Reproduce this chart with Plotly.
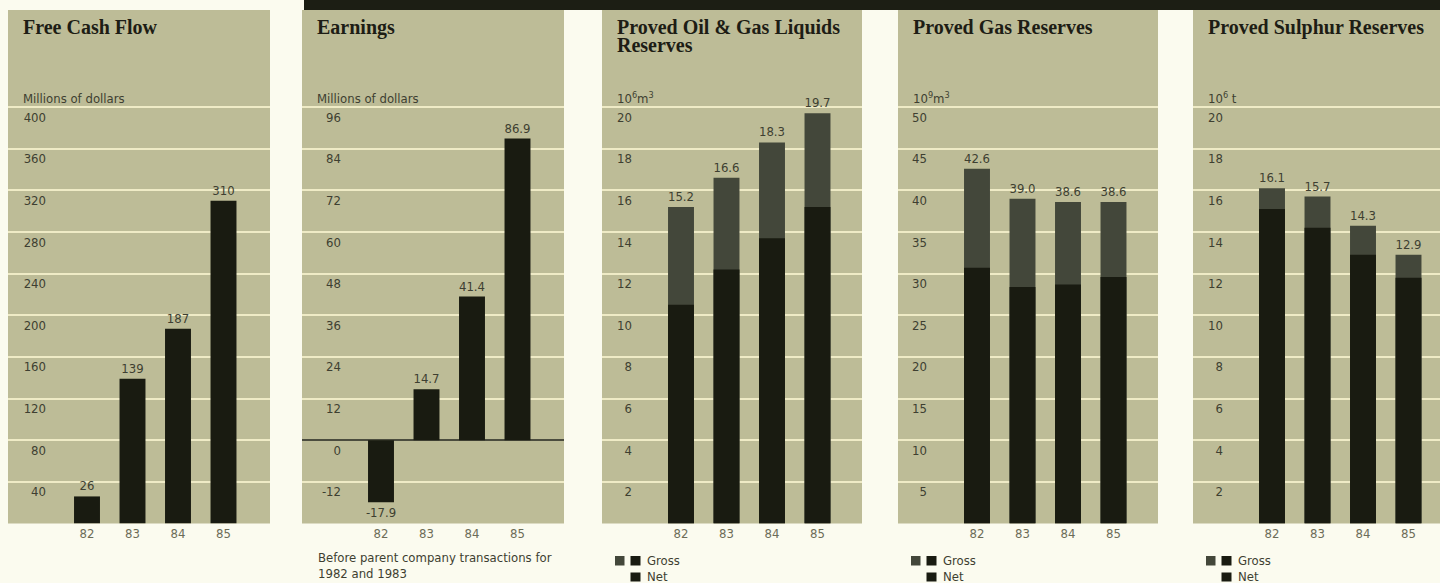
import plotly.graph_objects as go

# ---------------- data ----------------
years = ["82", "83", "84", "85"]
free_cash_flow = [26, 139, 187, 310]
earnings = [-17.9, 14.7, 41.4, 86.9]
oil_gross = [15.2, 16.6, 18.3, 19.7]
oil_net = [10.5, 12.2, 13.7, 15.2]
gas_gross = [42.6, 39.0, 38.6, 38.6]
gas_net = [30.7, 28.4, 28.7, 29.6]
sulphur_gross = [16.1, 15.7, 14.3, 12.9]
sulphur_net = [15.1, 14.2, 12.9, 11.8]

fcf_ticks = [40, 80, 120, 160, 200, 240, 280, 320, 360, 400]
earn_ticks = [-12, 0, 12, 24, 36, 48, 60, 72, 84, 96]
oil_ticks = [2, 4, 6, 8, 10, 12, 14, 16, 18, 20]
gas_ticks = [5, 10, 15, 20, 25, 30, 35, 40, 45, 50]
sul_ticks = [2, 4, 6, 8, 10, 12, 14, 16, 18, 20]

titles = ["Free Cash Flow", "Earnings", "Proved Oil & Gas Liquids", "Proved Gas Reserves",
          "Proved Sulphur Reserves"]
units = ["Millions of dollars", "Millions of dollars", "10<sup>6</sup>m<sup>3</sup>",
         "10<sup>9</sup>m<sup>3</sup>", "10<sup>6</sup> t"]

# ---------------- style ----------------
W, H = 1440, 583
PAGE = "#fbfbef"
PANEL = "#bdbc97"
GRID = "#efebc6"
BLACK = "#191b11"
GROSS = "#43473a"
TXT = "#3e3f31"
XT = "#6c6c57"
NARROW = "DejaVu Sans Condensed, Liberation Sans Narrow, sans-serif"
SERIF = "Liberation Serif, Times New Roman, serif"
FS = 13

panels = [(8, 270), (302, 564), (602, 862), (898, 1158), (1193, 1440)]
label_right = [43, 338, 629, 924, 1220]
top_px, bot_px = 10, 523.5
step_px = (bot_px - 107) / 10.0
n_steps = (bot_px - top_px) / step_px
spacing = 45.5
first_center = 79


def px(x):
    return x / W


def py(y):
    return 1 - y / H


ydom = [py(bot_px), py(top_px)]
yranges = [
    [0, 40 * n_steps],
    [-24, -24 + 12 * n_steps],
    [0, 2 * n_steps],
    [0, 5 * n_steps],
    [0, 2 * n_steps],
]
tickvals = [fcf_ticks, earn_ticks, oil_ticks, gas_ticks, sul_ticks]

fig = go.Figure()

bar_w = 0.57
textfont = dict(family=NARROW, size=FS, color=TXT)


def ax(i):
    return ("x" if i == 0 else f"x{i+1}"), ("y" if i == 0 else f"y{i+1}")


# panel 1
xa, ya = ax(0)
fig.add_trace(go.Bar(x=years, y=free_cash_flow, marker_color=BLACK, width=bar_w,
                     marker_line_width=0,
                     texttemplate="%{y}", textposition="outside",
                     constraintext="none", cliponaxis=False, textfont=textfont,
                     xaxis=xa, yaxis=ya, showlegend=False))
# panel 2
xa, ya = ax(1)
fig.add_trace(go.Bar(x=years, y=earnings, marker_color=BLACK, width=bar_w,
                     marker_line_width=0,
                     texttemplate="%{y:.1f}", textposition="outside",
                     constraintext="none", cliponaxis=False, textfont=textfont,
                     xaxis=xa, yaxis=ya, showlegend=False))
# panels 3-5 (gross behind, net in front)
for i, (g, n) in zip([2, 3, 4], [(oil_gross, oil_net), (gas_gross, gas_net),
                                  (sulphur_gross, sulphur_net)]):
    xa, ya = ax(i)
    fig.add_trace(go.Bar(x=years, y=g, marker_color=GROSS, width=bar_w,
                         marker_line_width=0,
                         texttemplate="%{y:.1f}", textposition="outside",
                         constraintext="none", cliponaxis=False, textfont=textfont,
                         xaxis=xa, yaxis=ya, showlegend=False, name="Gross"))
    fig.add_trace(go.Bar(x=years, y=n, marker_color=BLACK, width=bar_w,
                         marker_line_width=0,
                         xaxis=xa, yaxis=ya, showlegend=False, name="Net"))

layout = dict(
    width=W, height=H, margin=dict(l=0, r=0, t=0, b=0),
    paper_bgcolor=PAGE, plot_bgcolor=PANEL, barmode="overlay",
    font=dict(family=NARROW, color=TXT),
)

for i, (l, r) in enumerate(panels):
    xk = "xaxis" if i == 0 else f"xaxis{i+1}"
    yk = "yaxis" if i == 0 else f"yaxis{i+1}"
    xa, ya = ax(i)
    rl = -first_center / spacing
    rr = rl + (r - l) / spacing
    layout[xk] = dict(domain=[px(l), px(r)], anchor=ya, type="category", range=[rl, rr],
                      showgrid=False, zeroline=False, showline=False, ticks="",
                      tickfont=dict(family=NARROW, size=FS, color=XT), fixedrange=True)
    layout[yk] = dict(domain=ydom, anchor="free", position=px(label_right[i] + 3),
                      range=yranges[i], tickvals=tickvals[i],
                      ticktext=[str(v) for v in tickvals[i]],
                      showgrid=True, gridcolor=GRID, gridwidth=2,
                      zeroline=(i == 1), zerolinecolor="#4b4c3e", zerolinewidth=2,
                      showline=False, ticks="", ticklabelshift=10,
                      tickfont=dict(family=NARROW, size=FS, color=TXT), fixedrange=True)

fig.update_layout(**layout)

annotations = []
shapes = []
# top black band
shapes.append(dict(type="rect", xref="paper", yref="paper", x0=px(304), x1=1, y0=py(10), y1=1,
                   fillcolor="#1c1e14", line_width=0, layer="above"))

for i, (l, r) in enumerate(panels):
    annotations.append(dict(text=f"<b>{titles[i]}</b>", xref="paper", yref="paper",
                            x=px(l + 13), y=py(14), xanchor="left", yanchor="top",
                            showarrow=False, font=dict(family=SERIF, size=20, color="#1d1d15")))
    annotations.append(dict(text=units[i], xref="paper", yref="paper", x=px(l + 13),
                            y=py(108), xanchor="left", yanchor="bottom", showarrow=False,
                            font=dict(family=NARROW, size=FS, color=TXT)))
annotations.append(dict(text="<b>Reserves</b>", xref="paper", yref="paper", x=px(602 + 13),
                        y=py(32), xanchor="left", yanchor="top", showarrow=False,
                        font=dict(family=SERIF, size=20, color="#1d1d15")))

# footnote under earnings
for txt, yy in [("Before parent company transactions for", 557), ("1982 and 1983", 573)]:
    annotations.append(dict(text=txt, xref="paper", yref="paper", x=px(316), y=py(yy),
                            xanchor="left", yanchor="middle", showarrow=False,
                            font=dict(family=NARROW, size=FS, color=TXT)))

# Gross / Net keys
for l, _ in panels[2:]:
    shapes.append(dict(type="rect", xref="paper", yref="paper", x0=px(l + 13), x1=px(l + 22.5),
                       y0=py(565.5), y1=py(556), fillcolor=GROSS, line_width=0))
    shapes.append(dict(type="rect", xref="paper", yref="paper", x0=px(l + 28.5), x1=px(l + 38.5),
                       y0=py(565.5), y1=py(556), fillcolor=BLACK, line_width=0))
    shapes.append(dict(type="rect", xref="paper", yref="paper", x0=px(l + 28.5), x1=px(l + 38.5),
                       y0=py(581.5), y1=py(572.5), fillcolor=BLACK, line_width=0))
    annotations.append(dict(text="Gross", xref="paper", yref="paper", x=px(l + 43), y=py(560.5),
                            xanchor="left", yanchor="middle", showarrow=False,
                            font=dict(family=NARROW, size=FS, color=TXT)))
    annotations.append(dict(text="Net", xref="paper", yref="paper", x=px(l + 43), y=py(576),
                            xanchor="left", yanchor="middle", showarrow=False,
                            font=dict(family=NARROW, size=FS, color=TXT)))

fig.update_layout(annotations=annotations, shapes=shapes)
fig.write_html("out.html")
